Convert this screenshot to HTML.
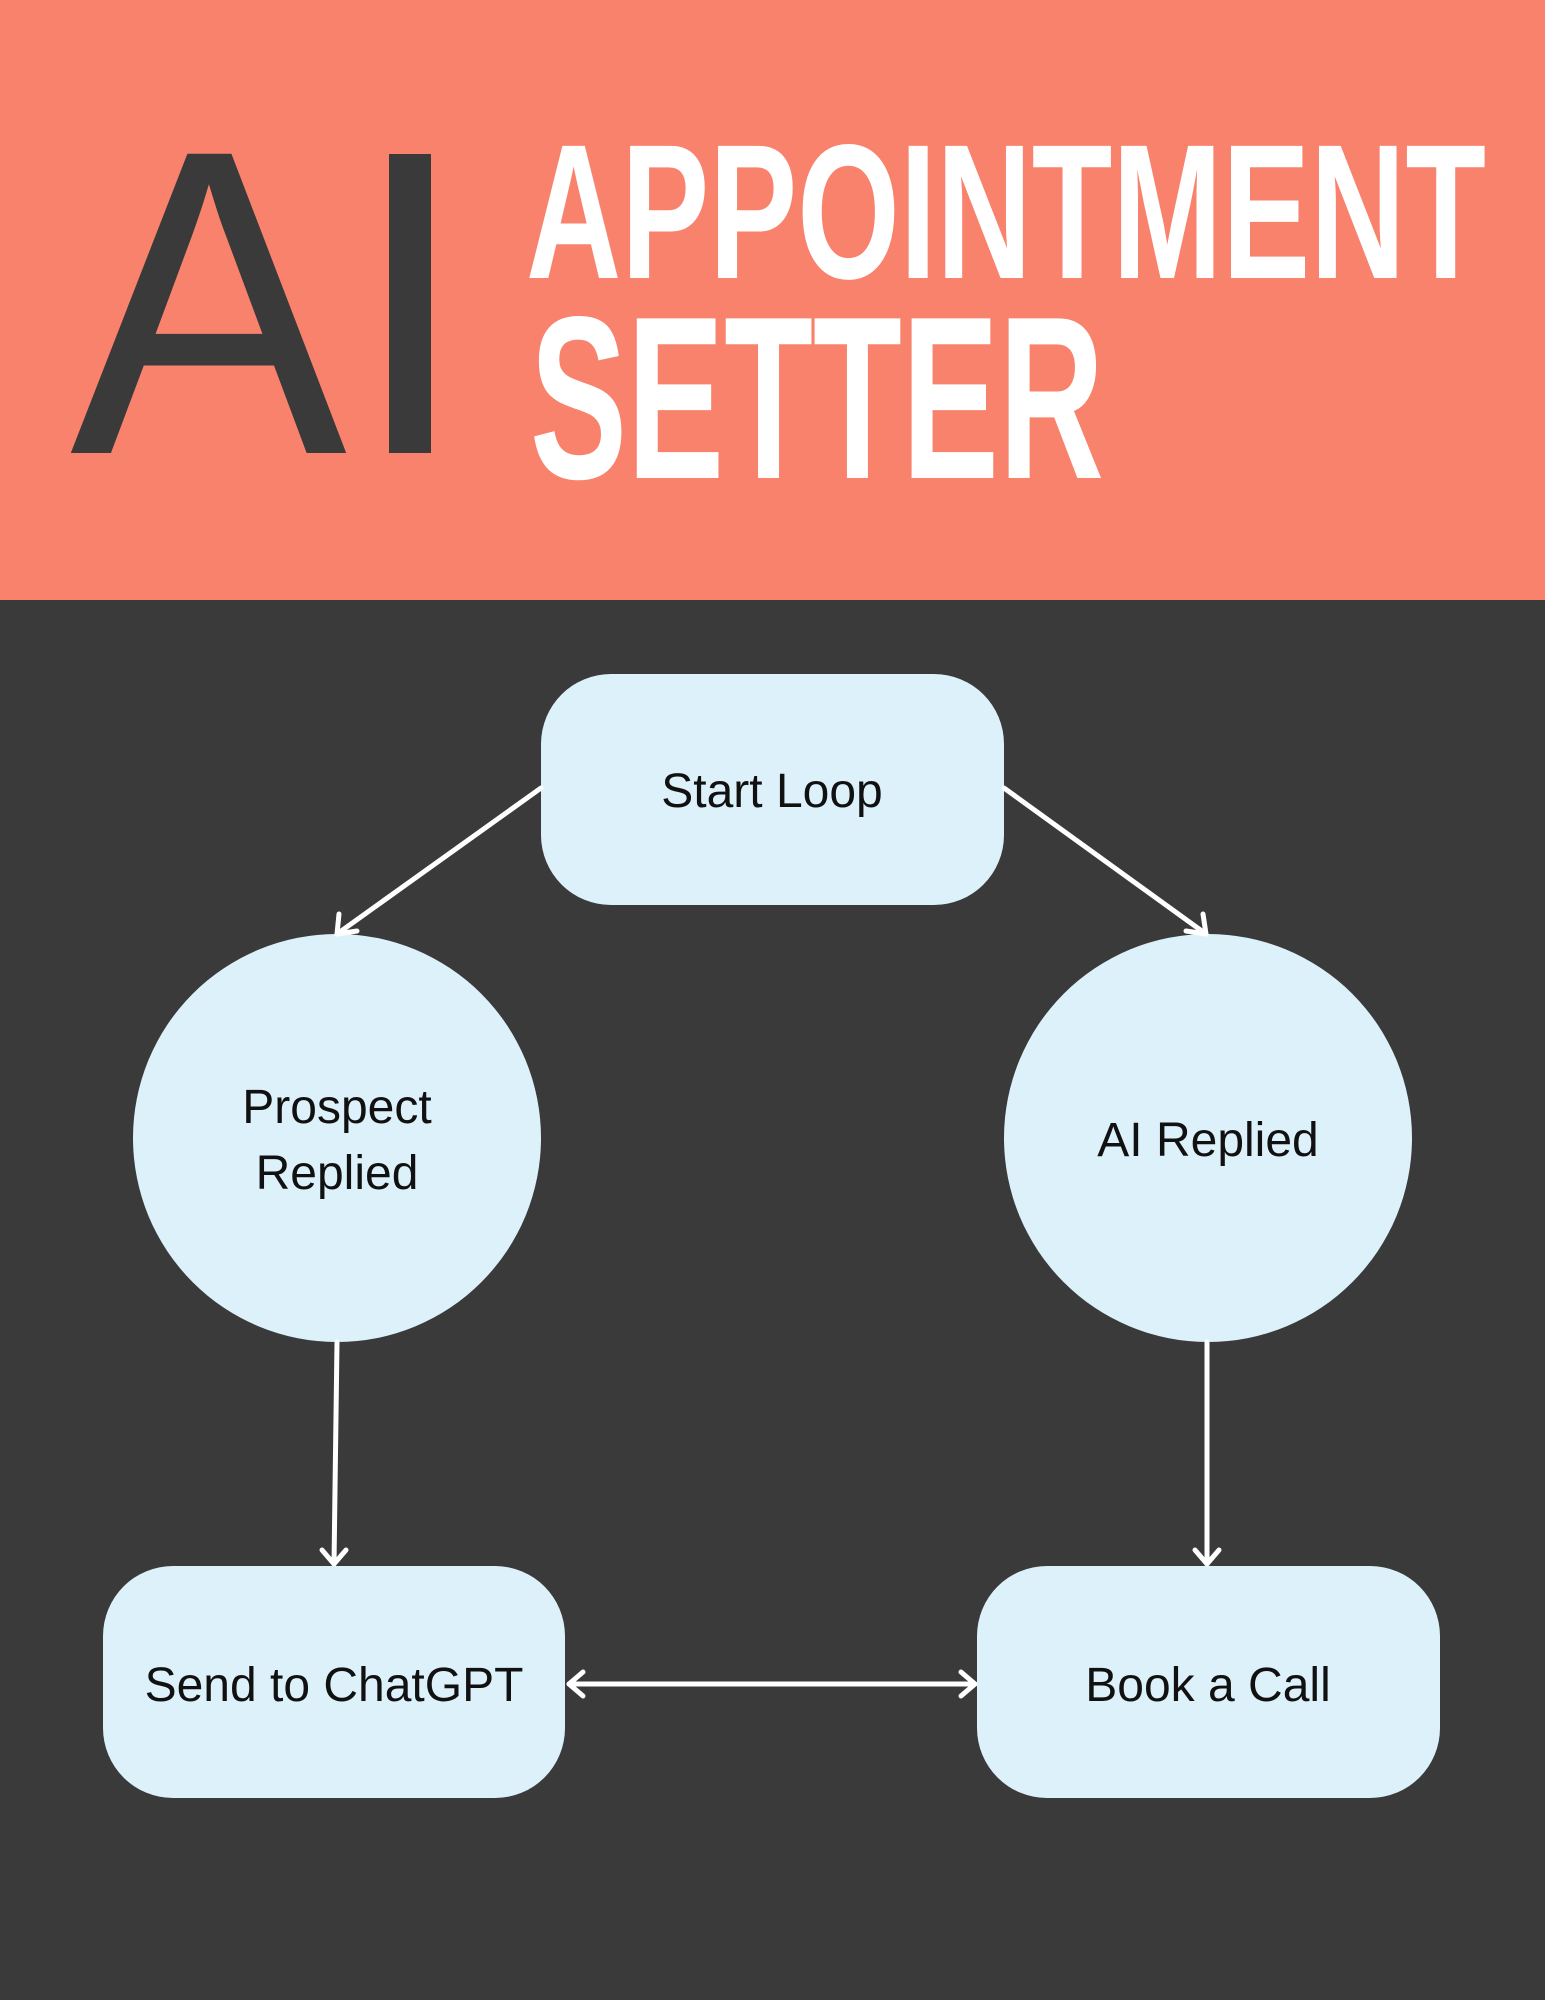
<!DOCTYPE html>
<html><head><meta charset="utf-8"><style>
html,body{margin:0;padding:0;background:#3a3a3a;}
svg{display:block}
</style></head><body>
<svg width="1545" height="2000" viewBox="0 0 1545 2000" xmlns="http://www.w3.org/2000/svg">
<rect x="0" y="0" width="1545" height="2000" fill="#3a3a3a"/>
<rect x="0" y="0" width="1545" height="600" fill="#f9826d"/>
<text x="70" y="453" font-family="Liberation Sans, sans-serif" font-size="435" fill="#3a3a3a" textLength="277" lengthAdjust="spacingAndGlyphs">A</text>
<rect x="389" y="154" width="42" height="299" fill="#3a3a3a"/>
<text x="526" y="278" font-family="Liberation Sans, sans-serif" font-weight="bold" font-size="192" fill="#fff" textLength="960" lengthAdjust="spacingAndGlyphs">APPOINTMENT</text>
<text x="530" y="478" font-family="Liberation Sans, sans-serif" font-weight="bold" font-size="232" fill="#fff" textLength="574" lengthAdjust="spacingAndGlyphs">SETTER</text>

<g fill="#ddf1fb">
<rect x="541" y="674" width="463" height="231" rx="70"/>
<circle cx="337" cy="1138" r="204"/>
<circle cx="1208" cy="1138" r="204"/>
<rect x="103" y="1566" width="462" height="232" rx="70"/>
<rect x="977" y="1566" width="463" height="232" rx="70"/>
</g>
<g font-family="Liberation Sans, sans-serif" font-size="48" fill="#111" text-anchor="middle">
<text x="772" y="807">Start Loop</text>
<text x="337" y="1123">Prospect</text>
<text x="337" y="1189">Replied</text>
<text x="1208" y="1156">AI Replied</text>
<text x="334" y="1701">Send to ChatGPT</text>
<text x="1208" y="1701">Book a Call</text>
</g>
<g stroke="#fff" stroke-width="5" fill="none" stroke-linecap="round" stroke-linejoin="round">
<line x1="541" y1="788" x2="337" y2="934"/>
<polyline points="339,914 337,934 357,931"/>
<line x1="1004" y1="788" x2="1206" y2="934"/>
<polyline points="1186,931 1206,934 1203,914"/>
<line x1="337" y1="1342" x2="334" y2="1564"/>
<polyline points="322,1550 334,1564 346,1550"/>
<line x1="1207" y1="1342" x2="1207" y2="1564"/>
<polyline points="1195,1550 1207,1564 1219,1550"/>
<line x1="569" y1="1684" x2="975" y2="1684"/>
<polyline points="583,1672 569,1684 583,1696"/>
<polyline points="961,1672 975,1684 961,1696"/>
</g>
</svg>
</body></html>
